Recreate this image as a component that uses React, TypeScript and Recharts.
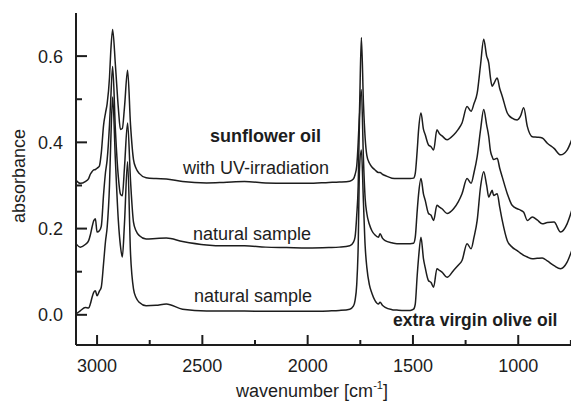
import { LineChart, Line, XAxis, YAxis } from "recharts"

// wavenumber grid, cm-1 (high to low, as plotted left to right)
const wavenumbers = [
  3100, 3080, 3056, 3040, 3032, 3024, 3016, 3008, 3000, 2989, 2980, 2969, 2960, 2952, 2941, 2935, 2926,
  2913, 2899, 2889, 2880, 2870, 2855, 2841, 2827, 2815, 2800, 2767, 2720, 2671, 2594, 2480, 2400, 2300,
  2200, 2100, 2000, 1900, 1850, 1800, 1783, 1775, 1767, 1760, 1754, 1745, 1735, 1727, 1719, 1707, 1695,
  1680, 1664, 1656, 1645, 1632, 1600, 1576, 1540, 1513, 1497, 1489, 1480, 1473, 1462, 1450, 1442, 1426,
  1414, 1402, 1386, 1374, 1362, 1338, 1307, 1285, 1267, 1243, 1224, 1210, 1195, 1179, 1164, 1150, 1140,
  1132, 1124, 1117, 1100, 1088, 1076, 1052, 1029, 1005, 990, 974, 957, 933, 910, 886, 862, 830, 799, 768, 746,
]

// sunflower oil, with UV-irradiation
const sunflowerUv = [
  0.312, 0.305, 0.309, 0.316, 0.326, 0.332, 0.336, 0.337, 0.34, 0.345, 0.375, 0.44, 0.468, 0.49, 0.55, 0.61, 0.662,
  0.58, 0.48, 0.43, 0.432, 0.48, 0.567, 0.44, 0.36, 0.34, 0.328, 0.318, 0.316, 0.315, 0.309, 0.306, 0.307, 0.309,
  0.306, 0.305, 0.305, 0.307, 0.308, 0.31, 0.315, 0.325, 0.345, 0.4, 0.47, 0.643, 0.49, 0.41, 0.37, 0.352, 0.343,
  0.336, 0.33, 0.33, 0.326, 0.323, 0.317, 0.316, 0.316, 0.316, 0.317, 0.328, 0.38, 0.43, 0.468, 0.43, 0.418, 0.394,
  0.39, 0.382, 0.429, 0.42, 0.415, 0.406, 0.417, 0.43, 0.445, 0.483, 0.472, 0.49, 0.514, 0.58, 0.639, 0.6, 0.584,
  0.55, 0.53, 0.535, 0.549, 0.525, 0.507, 0.468, 0.456, 0.452, 0.46, 0.48, 0.437, 0.413, 0.412, 0.41, 0.398, 0.386, 0.371, 0.382, 0.406,
]

// sunflower oil, natural sample
const sunflowerNatural = [
  0.165, 0.157, 0.163, 0.172, 0.185, 0.203, 0.218, 0.223, 0.192, 0.195, 0.205, 0.28, 0.33, 0.36, 0.44, 0.5, 0.576,
  0.43, 0.32, 0.28, 0.276, 0.34, 0.445, 0.31, 0.215, 0.195, 0.184, 0.176, 0.177, 0.178, 0.17, 0.162, 0.16, 0.16,
  0.157, 0.156, 0.155, 0.156, 0.157, 0.16, 0.168, 0.18, 0.23, 0.3, 0.45, 0.522, 0.36, 0.27, 0.235, 0.21, 0.195,
  0.185, 0.18, 0.188, 0.178, 0.172, 0.167, 0.165, 0.165, 0.165, 0.166, 0.18, 0.24, 0.281, 0.316, 0.28, 0.266, 0.235,
  0.231, 0.219, 0.254, 0.25, 0.246, 0.235, 0.246, 0.262, 0.281, 0.316, 0.305, 0.33, 0.367, 0.429, 0.476, 0.44, 0.413,
  0.38, 0.367, 0.36, 0.363, 0.34, 0.32, 0.281, 0.254, 0.246, 0.243, 0.238, 0.219, 0.227, 0.22, 0.211, 0.214, 0.215, 0.192, 0.211, 0.242,
]

// extra virgin olive oil, natural sample
const oliveOil = [
  0.002, 0.009, 0.017, 0.016, 0.025, 0.04, 0.052, 0.056, 0.044, 0.055, 0.064, 0.12, 0.17, 0.203, 0.3, 0.4, 0.505,
  0.359, 0.219, 0.16, 0.134, 0.21, 0.355, 0.141, 0.06, 0.04, 0.029, 0.021, 0.022, 0.025, 0.013, 0.009, 0.009, 0.009,
  0.008, 0.008, 0.008, 0.009, 0.01, 0.013, 0.02, 0.033, 0.07, 0.16, 0.336, 0.382, 0.26, 0.16, 0.11, 0.07, 0.05,
  0.033, 0.025, 0.029, 0.022, 0.017, 0.012, 0.011, 0.01, 0.01, 0.013, 0.025, 0.09, 0.134, 0.18, 0.13, 0.11, 0.079,
  0.075, 0.064, 0.107, 0.103, 0.099, 0.087, 0.103, 0.115, 0.126, 0.165, 0.153, 0.18, 0.219, 0.297, 0.332, 0.3, 0.273,
  0.281, 0.289, 0.277, 0.281, 0.25, 0.219, 0.172, 0.157, 0.149, 0.143, 0.138, 0.134, 0.13, 0.131, 0.132, 0.125, 0.114, 0.107, 0.122, 0.149,
]

const xTicks = [3000, 2750, 2500, 2250, 2000, 1750, 1500, 1250, 1000, 750]
const yTicks = [0, 0.1, 0.2, 0.3, 0.4, 0.5, 0.6]

const FONT = '"Liberation Sans", Arial, Helvetica, sans-serif'
const INK = "#1d1d1d"
const X_GAP = 14
const Y_GAP = 13

const isMajorX = (v: number) => v % 500 === 0
const isMajorY = (v: number) => Math.round(v * 10) % 2 === 0

function BottomTick(props: any) {
  const { x, y, payload } = props
  const v = payload.value
  const axisY = y - X_GAP
  return (
    <g>
      <line x1={x} x2={x} y1={axisY} y2={axisY - (isMajorX(v) ? 10 : 5)} stroke={INK} strokeWidth={2} />
      {isMajorX(v) && v !== 750 && (
        <text x={x} y={y} dy="0.71em" textAnchor="middle" fontSize={18} fontFamily={FONT} fill={INK}>
          {v}
        </text>
      )}
    </g>
  )
}

function TopTick(props: any) {
  const { x, y, payload } = props
  return <line x1={x} x2={x} y1={y} y2={y + (isMajorX(payload.value) ? 10 : 6)} stroke={INK} strokeWidth={2} />
}

function LeftTick(props: any) {
  const { x, y, payload } = props
  const v = payload.value
  const axisX = x + Y_GAP
  return (
    <g>
      <line x1={axisX} x2={axisX + (isMajorY(v) ? 11 : 6)} y1={y} y2={y} stroke={INK} strokeWidth={2} />
      {isMajorY(v) && (
        <text x={x} y={y} dy="0.355em" textAnchor="end" fontSize={18} fontFamily={FONT} fill={INK}>
          {v.toFixed(1)}
        </text>
      )}
    </g>
  )
}

function RightTick(props: any) {
  const { x, y, payload } = props
  return <line x1={x} x2={x - (isMajorY(payload.value) ? 10 : 6)} y1={y} y2={y} stroke={INK} strokeWidth={2} />
}

export default function App() {
  const data = wavenumbers.map((wn, i) => ({
    wn,
    uv: sunflowerUv[i],
    natural: sunflowerNatural[i],
    olive: oliveOil[i],
  }))

  const axisLine = { stroke: INK, strokeWidth: 2 }

  return (
    <div style={{ position: "fixed", left: 0, top: 0, width: 571, height: 403, overflow: "hidden", background: "#fff" }}>
      <LineChart width={600} height={403} data={data} margin={{ top: 13, right: 27, bottom: 0, left: 0 }}>
        <XAxis
          dataKey="wn"
          type="number"
          domain={[740, 3100]}
          reversed
          allowDataOverflow
          ticks={xTicks}
          interval={0}
          height={58}
          tickSize={0}
          tickMargin={X_GAP}
          axisLine={axisLine}
          tickLine={false}
          tick={BottomTick}
        />
        <XAxis
          xAxisId="top"
          orientation="top"
          dataKey="wn"
          type="number"
          domain={[740, 3100]}
          reversed
          allowDataOverflow
          ticks={xTicks}
          interval={0}
          height={0}
          tickSize={0}
          tickMargin={0}
          axisLine={axisLine}
          tickLine={false}
          tick={TopTick}
        />
        <YAxis
          type="number"
          domain={[-0.07, 0.7]}
          allowDataOverflow
          ticks={yTicks}
          interval={0}
          width={76}
          tickSize={0}
          tickMargin={Y_GAP}
          axisLine={axisLine}
          tickLine={false}
          tick={LeftTick}
        />
        <YAxis
          yAxisId="right"
          orientation="right"
          type="number"
          domain={[-0.07, 0.7]}
          allowDataOverflow
          ticks={yTicks}
          interval={0}
          width={0}
          tickSize={0}
          tickMargin={0}
          axisLine={axisLine}
          tickLine={false}
          tick={RightTick}
        />
        <Line type="monotone" dataKey="uv" stroke={INK} strokeWidth={1.5} dot={false} activeDot={false} isAnimationActive={false} />
        <Line type="monotone" dataKey="natural" stroke={INK} strokeWidth={1.5} dot={false} activeDot={false} isAnimationActive={false} />
        <Line type="monotone" dataKey="olive" stroke={INK} strokeWidth={1.5} dot={false} activeDot={false} isAnimationActive={false} />
      </LineChart>
      <svg width={571} height={403} style={{ position: "absolute", left: 0, top: 0, pointerEvents: "none" }} fontFamily={FONT} fill={INK}>
        <text x={25} y={176} transform="rotate(-90 25 176)" textAnchor="middle" fontSize={18}>
          absorbance
        </text>
        <text x={312} y={397} textAnchor="middle" fontSize={18}>
          wavenumber [cm
          <tspan dy={-8} fontSize={11}>-1</tspan>
          <tspan dy={8}>]</tspan>
        </text>
        <text x={210} y={142} fontSize={18} fontWeight="bold">
          sunflower oil
        </text>
        <text x={183} y={174} fontSize={18}>
          with UV-irradiation
        </text>
        <text x={193} y={240} fontSize={18}>
          natural sample
        </text>
        <text x={194} y={302} fontSize={18}>
          natural sample
        </text>
        <text x={393} y={326} fontSize={17.5} fontWeight="bold">
          extra virgin olive oil
        </text>
      </svg>
    </div>
  )
}
